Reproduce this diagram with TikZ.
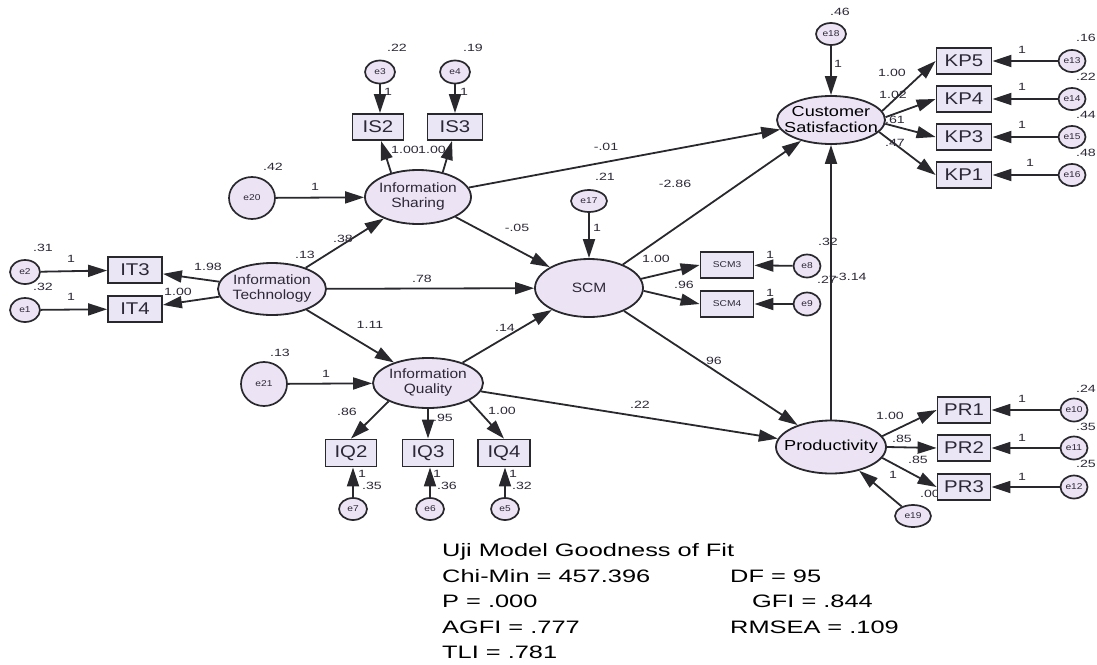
\documentclass[tikz,border=0pt]{standalone}
\usepackage{fontspec}
\setmainfont{Liberation Sans}
\newfontfamily\labfont[FakeStretch=1.35]{Liberation Sans}
\newfontfamily\fitfont[FakeStretch=1.41]{Liberation Sans}
\newfontfamily\boxfont[FakeStretch=1.2]{Liberation Sans}
\newfontfamily\ellfont[FakeStretch=1.15]{Liberation Sans}
\newfontfamily\bigfont[FakeStretch=1.25]{Liberation Sans}
\usetikzlibrary{arrows.meta,shapes.geometric}
\definecolor{ellfill}{RGB}{236,228,245}
\definecolor{boxfill}{RGB}{234,230,246}
\definecolor{edge}{RGB}{40,40,45}
\definecolor{txt}{RGB}{45,40,55}
\newcommand{\zbox}[1]{\makebox[0pt][c]{#1}}
\begin{document}
\begin{tikzpicture}[x=1pt,y=-1pt,
 lat/.style={ellipse, draw=edge, line width=1.8pt, fill=ellfill, inner sep=0pt, font=\ellfont\fontsize{13.5}{15}\selectfont, text=txt, align=center},
 latb/.style={lat, font=\bigfont\fontsize{14.5}{16}\selectfont, text=black},
 obs/.style={rectangle, draw=edge, line width=1.8pt, fill=boxfill, inner sep=0pt, minimum width=54pt, minimum height=26pt, font=\boxfont\fontsize{17}{17}\selectfont, text=txt},
 err/.style={ellipse, draw=edge, line width=1.7pt, fill=ellfill, inner sep=0pt, minimum width=28pt, minimum height=22pt, font=\boxfont\fontsize{8.5}{8.5}\selectfont, text=txt},
 conn/.style={draw=edge, line width=1.8pt, -{Triangle[length=19pt,width=12pt]}},
 lab/.style={font=\labfont\fontsize{10.5}{10.5}\selectfont, text=txt, inner sep=0pt},
 fit/.style={font=\fitfont\fontsize{18}{18}\selectfont, text=black, inner sep=0pt, anchor=base west},
]
\useasboundingbox (0,0) rectangle (1097,664);
\clip (0,0) rectangle (1097,664);

% label partly hidden behind PR3
\node[lab] (lpr0) at (930,494) {.00};

% latent variables
\node[lat, minimum width=108, minimum height=52] (IT) at (272,289) {\zbox{Information}\\\zbox{Technology}};
\node[lat, minimum width=106, minimum height=54] (IS) at (418,197) {\zbox{Information}\\\zbox{Sharing}};
\node[lat, minimum width=108, minimum height=58] (SCM) at (589,288) {SCM};
\node[lat, minimum width=110, minimum height=50] (IQ) at (428,383) {\zbox{Information}\\\zbox{Quality}};
\node[latb, minimum width=108, minimum height=48] (CS) at (831,120) {\zbox{Customer}\\\zbox{Satisfaction}};
\node[latb, minimum width=110, minimum height=53] (PR) at (831,447) {\zbox{Productivity}};

% observed
\node[obs] (IT3) at (135,270) {IT3};
\node[obs] (IT4) at (135,309) {IT4};
\node[obs, minimum width=51] (IS2) at (378,127) {IS2};
\node[obs, minimum width=55] (IS3) at (455,127) {IS3};
\node[obs, minimum width=55] (KP5) at (964,61) {KP5};
\node[obs, minimum width=55] (KP4) at (964,99) {KP4};
\node[obs, minimum width=55] (KP3) at (964,137) {KP3};
\node[obs, minimum width=55] (KP1) at (964,175) {KP1};
\node[obs, minimum width=53, font=\boxfont\fontsize{8.5}{8.5}\selectfont] (SCM3) at (727,265) {SCM3};
\node[obs, minimum width=53, font=\boxfont\fontsize{8.5}{8.5}\selectfont] (SCM4) at (727,304) {SCM4};
\node[obs, minimum width=51, minimum height=27] (IQ2) at (351,453) {IQ2};
\node[obs, minimum width=51, minimum height=27] (IQ3) at (428,453) {IQ3};
\node[obs, minimum width=52, minimum height=27] (IQ4) at (504,453) {IQ4};
\node[obs, minimum width=53] (PR1) at (964,410) {PR1};
\node[obs, minimum width=53] (PR2) at (964,448) {PR2};
\node[obs, minimum width=53] (PR3) at (964,487) {PR3};

% errors
\node[err, minimum width=30, minimum height=24] (e2) at (25,272) {e2};
\node[err, minimum width=30, minimum height=24] (e1) at (25,310) {e1};
\node[err, minimum width=30, minimum height=23] (e3) at (380,72) {e3};
\node[err, minimum width=30, minimum height=23] (e4) at (455,72) {e4};
\node[err, minimum width=46, minimum height=42] (e20) at (252,198) {e20};
\node[err, minimum width=46, minimum height=44] (e21) at (264,384) {e21};
\node[err] (e7) at (353,509) {e7};
\node[err] (e6) at (430,509) {e6};
\node[err] (e5) at (505,509) {e5};
\node[err, minimum width=36] (e17) at (589,201) {e17};
\node[err, minimum width=30] (e18) at (831,34) {e18};
\node[err, minimum width=27] (e13) at (1072,61) {e13};
\node[err, minimum width=27] (e14) at (1072,99) {e14};
\node[err, minimum width=27] (e15) at (1072,137) {e15};
\node[err, minimum width=27] (e16) at (1072,175) {e16};
\node[err, minimum width=27, minimum height=23] (e8) at (807,266) {e8};
\node[err, minimum width=27, minimum height=23] (e9) at (807,304) {e9};
\node[err, minimum width=27, minimum height=23] (e10) at (1074,410) {e10};
\node[err, minimum width=27, minimum height=23] (e11) at (1074,448) {e11};
\node[err, minimum width=27, minimum height=23] (e12) at (1074,487) {e12};
\node[err, minimum width=36] (e19) at (913,516) {e19};

% connectors
\draw[conn] (e2) -- (IT3);
\draw[conn] (e1) -- (IT4);
\draw[conn] (IT) -- (IT3);
\draw[conn] (IT) -- (IT4);
\draw[conn] (IT) -- (IS);
\draw[conn] (IT) -- (SCM);
\draw[conn] (IT) -- (IQ);
\draw[conn] (e20) -- (IS);
\draw[conn] (e21) -- (IQ);
\draw[conn] (IS.138) -- ([xshift=3]IS2.south);
\draw[conn] (IS.45) -- ([xshift=-3]IS3.south);
\draw[conn] (e3) -- (e3 |- IS2.north);
\draw[conn] (e4) -- (e4 |- IS3.north);
\draw[conn] (IS) -- (CS);
\draw[conn] (IS) -- (SCM);
\draw[conn] (e17) -- (SCM);
\draw[conn] (SCM) -- (CS);
\draw[conn] (SCM.10) -- (SCM3.west);
\draw[conn] (SCM.-3) -- (SCM4.west);
\draw[conn] (e8) -- (SCM3);
\draw[conn] (e9) -- (SCM4);
\draw[conn] (IQ) -- (SCM);
\draw[conn] (IQ) -- (PR);
\draw[conn] (SCM) -- (PR);
\draw[conn] (IQ.205) -- (IQ2.north);
\draw[conn] (IQ.south) -- (IQ3.north);
\draw[conn] (IQ.-23) -- (IQ4.north);
\draw[conn] (e7) -- (e7 |- IQ2.south);
\draw[conn] (e6) -- (e6 |- IQ3.south);
\draw[conn] (e5) -- (e5 |- IQ4.south);
\draw[conn] (PR) -- (CS);
\draw[conn] (e18) -- (CS);
\draw[conn] (CS.10) -- (KP5.west);
\draw[conn] (CS.3) -- (KP4.west);
\draw[conn] (CS.-4) -- (KP3.west);
\draw[conn] (CS.-14) -- (KP1.west);
\draw[conn] (e13) -- (KP5);
\draw[conn] (e14) -- (KP4);
\draw[conn] (e15) -- (KP3);
\draw[conn] (e16) -- (KP1);
\draw[conn] (PR.12) -- (PR1.west);
\draw[conn] (PR.east) -- (PR2.west);
\draw[conn] (PR.-12) -- (PR3.west);
\draw[conn] (e10) -- (PR1);
\draw[conn] (e11) -- (PR2);
\draw[conn] (e12) -- (PR3);
\draw[conn] (e19) -- (PR);

% labels
\node[lab] (l1) at (43,248) {.31};
\node[lab] (l2) at (71,259) {1};
\node[lab] (l3) at (43,287) {.32};
\node[lab] (l4) at (71,297) {1};
\node[lab] (l5) at (208,267) {1.98};
\node[lab] (l6) at (178,292) {1.00};
\node[lab] (l7) at (305,255) {.13};
\node[lab] (l8) at (397,48) {.22};
\node[lab] (l9) at (473,48) {.19};
\node[lab] (l10) at (388,92) {1};
\node[lab] (l11) at (464,92) {1};
\node[lab] (l12) at (405,150) {1.00};
\node[lab] (l13) at (432,150) {1.00};
\node[lab] (l14) at (273,167) {.42};
\node[lab] (l15) at (315,187) {1};
\node[lab] (l16) at (343,239) {.38};
\node[lab] (l17) at (517,228) {-.05};
\node[lab] (l18) at (422,279) {.78};
\node[lab] (l19) at (370,325) {1.11};
\node[lab] (l20) at (505,328) {.14};
\node[lab] (l21) at (605,177) {.21};
\node[lab] (l22) at (675,184) {-2.86};
\node[lab] (l23) at (597,228) {1};
\node[lab] (l24) at (606,147) {-.01};
\node[lab] (l25) at (656,259) {1.00};
\node[lab] (l26) at (684,285) {.96};
\node[lab] (l27) at (770,255) {1};
\node[lab] (l28) at (770,293) {1};
\node[lab] (l29) at (712,361) {.96};
\node[lab] (l30) at (640,405) {.22};
\node[lab] (l31) at (280,353) {.13};
\node[lab] (l32) at (326,374) {1};
\node[lab] (l33) at (347,412) {.86};
\node[lab] (l34) at (443,418) {.95};
\node[lab] (l35) at (502,411) {1.00};
\node[lab] (l36) at (362,474) {1};
\node[lab] (l37) at (372,486) {.35};
\node[lab] (l38) at (437,474) {1};
\node[lab] (l39) at (447,486) {.36};
\node[lab] (l40) at (513,474) {1};
\node[lab] (l41) at (522,486) {.32};
\node[lab] (l42) at (840,12) {.46};
\node[lab] (l43) at (838,64) {1};
\node[lab] (l44) at (892,73) {1.00};
\node[lab] (l45) at (893,95) {1.02};
\node[lab] (l46) at (895,120) {.61};
\node[lab] (l47) at (895,143) {.47};
\node[lab] (l48) at (1022,50) {1};
\node[lab] (l49) at (1022,87) {1};
\node[lab] (l50) at (1022,125) {1};
\node[lab] (l51) at (1030,163) {1};
\node[lab, anchor=east] (l52) at (1096,38) {.16};
\node[lab, anchor=east] (l53) at (1096,77) {.22};
\node[lab, anchor=east] (l54) at (1096,115) {.44};
\node[lab, anchor=east] (l55) at (1096,153) {.48};
\node[lab] (l56) at (828,242) {.32};
\node[lab] (l57) at (827,280) {.27};
\node[lab, anchor=west] (l58) at (834,277) {-3.14};
\node[lab] (l59) at (890,416) {1.00};
\node[lab] (l60) at (902,439) {.85};
\node[lab] (l61) at (918,460) {.85};
\node[lab] (l62) at (893,475) {1};
\node[lab] (l63) at (1022,399) {1};
\node[lab] (l64) at (1022,438) {1};
\node[lab] (l65) at (1022,477) {1};
\node[lab, anchor=east] (l66) at (1096,389) {.24};
\node[lab, anchor=east] (l67) at (1096,427) {.35};
\node[lab, anchor=east] (l68) at (1096,464) {.25};

% fit statistics
\node[fit] (f1) at (442,556) {Uji Model Goodness of Fit};
\node[fit] (f2) at (442,582) {Chi-Min = 457.396};
\node[fit] (f3) at (730,582) {DF = 95};
\node[fit] (f4) at (442,607) {P = .000};
\node[fit] (f5) at (752,607) {GFI = .844};
\node[fit] (f6) at (442,633) {AGFI = .777};
\node[fit] (f7) at (730,633) {RMSEA = .109};
\node[fit] (f8) at (442,658) {TLI = .781};
\end{tikzpicture}
\end{document}
